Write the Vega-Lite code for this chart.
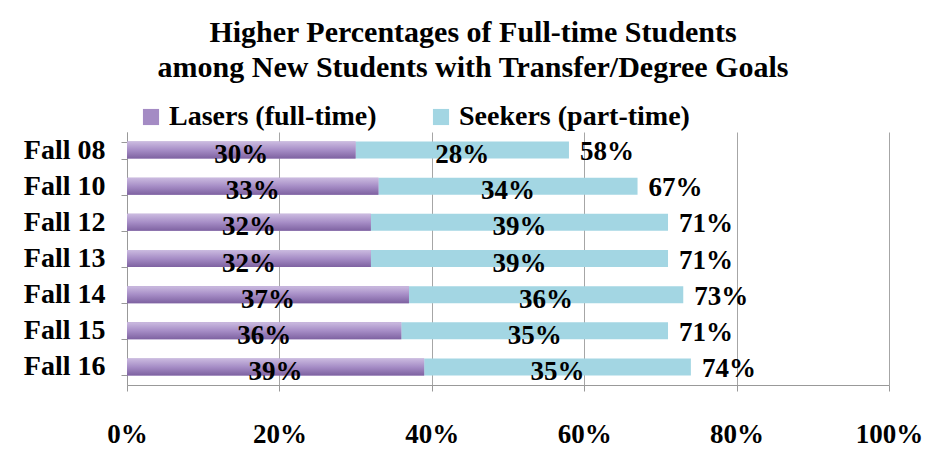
{
  "$schema": "https://vega.github.io/schema/vega-lite/v6.json",
  "autosize": {"type": "none"},
  "padding": {"left": 127, "top": 132, "right": 41, "bottom": 75},
  "width": 762,
  "height": 253,
  "background": "white",
  "title": {
    "text": ["Higher Percentages of Full-time Students", "among New Students with Transfer/Degree Goals"],
    "font": "Liberation Serif",
    "fontSize": 30,
    "fontWeight": "bold",
    "color": "black",
    "anchor": "middle",
    "frame": "group",
    "dx": -35,
    "offset": 20,
    "lineHeight": 35
  },
  "datasets": {
    "segments": [
      {"period": "Fall 08", "series": "Lasers (full-time)", "value": 0.30},
      {"period": "Fall 08", "series": "Seekers (part-time)", "value": 0.28},
      {"period": "Fall 10", "series": "Lasers (full-time)", "value": 0.33},
      {"period": "Fall 10", "series": "Seekers (part-time)", "value": 0.34},
      {"period": "Fall 12", "series": "Lasers (full-time)", "value": 0.32},
      {"period": "Fall 12", "series": "Seekers (part-time)", "value": 0.39},
      {"period": "Fall 13", "series": "Lasers (full-time)", "value": 0.32},
      {"period": "Fall 13", "series": "Seekers (part-time)", "value": 0.39},
      {"period": "Fall 14", "series": "Lasers (full-time)", "value": 0.37},
      {"period": "Fall 14", "series": "Seekers (part-time)", "value": 0.36},
      {"period": "Fall 15", "series": "Lasers (full-time)", "value": 0.36},
      {"period": "Fall 15", "series": "Seekers (part-time)", "value": 0.35},
      {"period": "Fall 16", "series": "Lasers (full-time)", "value": 0.39},
      {"period": "Fall 16", "series": "Seekers (part-time)", "value": 0.35}
    ],
    "totals": [
      {"period": "Fall 08", "total": 0.58},
      {"period": "Fall 10", "total": 0.67},
      {"period": "Fall 12", "total": 0.71},
      {"period": "Fall 13", "total": 0.71},
      {"period": "Fall 14", "total": 0.73},
      {"period": "Fall 15", "total": 0.71},
      {"period": "Fall 16", "total": 0.74}
    ]
  },
  "encoding": {
    "y": {
      "field": "period",
      "type": "nominal",
      "sort": ["Fall 08", "Fall 10", "Fall 12", "Fall 13", "Fall 14", "Fall 15", "Fall 16"],
      "scale": {"paddingInner": 0.53, "paddingOuter": 0.265},
      "axis": {
        "title": null,
        "tickBand": "extent",
        "domainColor": "#999999",
        "tickColor": "#999999",
        "tickSize": 6,
        "labelPadding": 16,
        "labelFont": "Liberation Serif",
        "labelFontSize": 28,
        "labelFontWeight": "bold",
        "labelColor": "black"
      }
    }
  },
  "layer": [
    {
      "data": {"name": "segments"},
      "mark": {"type": "bar"},
      "encoding": {
        "x": {
          "field": "value",
          "type": "quantitative",
          "stack": "zero",
          "scale": {"domain": [0, 1]},
          "axis": {
            "title": null,
            "format": ".0%",
            "values": [0, 0.2, 0.4, 0.6, 0.8, 1.0],
            "grid": true,
            "gridColor": "#a6a6a6",
            "domainColor": "#999999",
            "tickColor": "#999999",
            "tickSize": 6,
            "labelPadding": 30,
            "labelFont": "Liberation Serif",
            "labelFontSize": 27,
            "labelFontWeight": "bold",
            "labelColor": "black",
            "labelFlush": false
          }
        },
        "color": {
          "field": "series",
          "type": "nominal",
          "scale": {"domain": ["Lasers (full-time)", "Seekers (part-time)"], "range": ["#a48bc4", "#a3d6e3"]},
          "legend": {
            "title": null,
            "orient": "none",
            "direction": "horizontal",
            "legendX": 10,
            "legendY": -29,
            "symbolType": "square",
            "symbolSize": 260,
            "symbolStrokeWidth": 0,
            "labelFont": "Liberation Serif",
            "labelFontSize": 28,
            "labelFontWeight": "bold",
            "labelColor": "black",
            "labelOffset": 4,
            "columnPadding": 50,
            "labelLimit": 400
          }
        },
        "order": {"field": "series"}
      }
    },
    {
      "data": {"name": "segments"},
      "transform": [{"filter": "datum.series === 'Lasers (full-time)'"}],
      "mark": {
        "type": "bar",
        "color": {
          "gradient": "linear",
          "x1": 0, "y1": 0, "x2": 0, "y2": 1,
          "stops": [
            {"offset": 0, "color": "#cbbbe0"},
            {"offset": 0.5, "color": "#a68dc6"},
            {"offset": 1, "color": "#7e62a1"}
          ]
        }
      },
      "encoding": {
        "x": {"field": "value", "type": "quantitative", "stack": "zero"}
      }
    },
    {
      "data": {"name": "segments"},
      "mark": {
        "type": "text",
        "font": "Liberation Serif",
        "fontSize": 27,
        "fontWeight": "bold",
        "color": "black",
        "baseline": "middle",
        "dy": 5
      },
      "encoding": {
        "x": {"field": "value", "type": "quantitative", "stack": "zero", "bandPosition": 0.5},
        "detail": {"field": "series"},
        "order": {"field": "series"},
        "text": {"field": "value", "type": "quantitative", "format": ".0%"}
      }
    },
    {
      "data": {"name": "totals"},
      "mark": {
        "type": "text",
        "font": "Liberation Serif",
        "fontSize": 27,
        "fontWeight": "bold",
        "color": "black",
        "align": "left",
        "baseline": "middle",
        "dx": 11,
        "dy": 2
      },
      "encoding": {
        "x": {"field": "total", "type": "quantitative"},
        "text": {"field": "total", "type": "quantitative", "format": ".0%"}
      }
    }
  ],
  "config": {
    "view": {"stroke": null}
  }
}
